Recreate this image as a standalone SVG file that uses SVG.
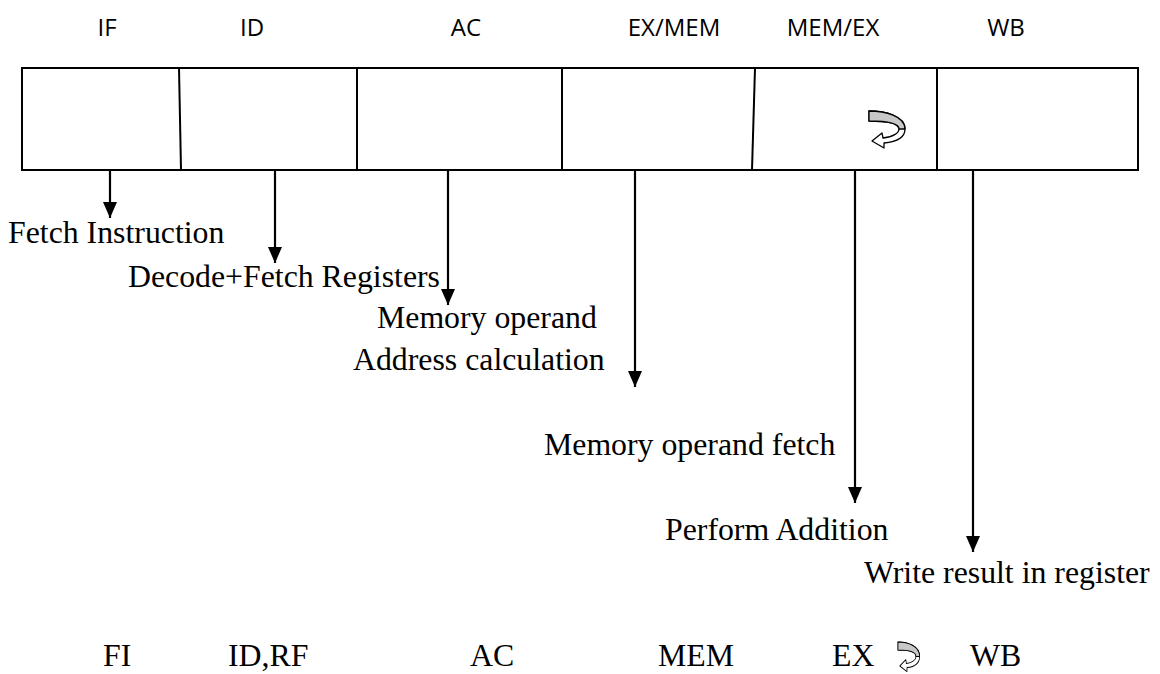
<svg xmlns="http://www.w3.org/2000/svg" width="1160" height="674" viewBox="0 0 1160 674">
<style>
.top{font-family:"Open Sans","Liberation Sans",sans-serif;font-size:24px;fill:#000;text-anchor:middle}
.lbl{font-family:"Liberation Serif","Times New Roman",serif;font-size:31.8px;fill:#000}
.box{fill:none;stroke:#000;stroke-width:2}
.conn{stroke:#000;stroke-width:2.2;fill:none}
</style>
<defs>
<marker id="ah" viewBox="0 0 16 14" refX="16" refY="7" markerWidth="16" markerHeight="14" markerUnits="userSpaceOnUse" orient="auto">
<path d="M0,0 L16,7 L0,14 Z" fill="#000"/>
</marker>
<g id="uturn">
<path d="M0,0 C16,0 36,5 36,18 C36,27 26,31 15,32 L15,37 L3,30 L13,22 L14,27 C24,26 30,22 30,18 C30,12 16,10 0,10 Z" fill="#fff" stroke="#000" stroke-width="1.3" stroke-linejoin="round"/>
<path d="M0,0 C16,0 36,5 36,18 L30,18 C30,12 16,10 0,10 Z" fill="#c8c8c8" stroke="#000" stroke-width="1.3" stroke-linejoin="round"/>
</g>
</defs>

<g id="stage-labels">
<text class="top" x="107" y="36">IF</text>
<text class="top" x="252" y="36">ID</text>
<text class="top" x="466" y="36">AC</text>
<text class="top" x="674" y="36">EX/MEM</text>
<text class="top" x="833" y="36">MEM/EX</text>
<text class="top" x="1006" y="36">WB</text>
</g>

<g id="pipeline">
<rect class="box" x="22" y="68" width="1116" height="102"/>
<line class="box" x1="179" y1="68" x2="181" y2="170"/>
<line class="box" x1="357" y1="68" x2="357" y2="170"/>
<line class="box" x1="562" y1="68" x2="562" y2="170"/>
<line class="box" x1="755" y1="68" x2="752" y2="170"/>
<line class="box" x1="937" y1="68" x2="937" y2="170"/>
<use href="#uturn" x="869" y="111"/>
</g>

<g id="connectors">
<line class="conn" x1="110" y1="170" x2="110" y2="218" marker-end="url(#ah)"/>
<line class="conn" x1="275" y1="170" x2="275" y2="263" marker-end="url(#ah)"/>
<line class="conn" x1="448" y1="170" x2="448" y2="305" marker-end="url(#ah)"/>
<line class="conn" x1="635" y1="170" x2="635" y2="387" marker-end="url(#ah)"/>
<line class="conn" x1="855" y1="170" x2="855" y2="503" marker-end="url(#ah)"/>
<line class="conn" x1="973" y1="170" x2="973" y2="552" marker-end="url(#ah)"/>
</g>

<g id="step-fetch"><text class="lbl" x="8" y="243">Fetch Instruction</text></g>
<g id="step-decode"><text class="lbl" x="128" y="287">Decode+Fetch Registers</text></g>
<g id="step-address"><text class="lbl" x="377" y="328">Memory operand</text><text class="lbl" x="353" y="370">Address calculation</text></g>
<g id="step-memfetch"><text class="lbl" x="544" y="455">Memory operand fetch</text></g>
<g id="step-add"><text class="lbl" x="665" y="540">Perform Addition</text></g>
<g id="step-write"><text class="lbl" x="864" y="583">Write result in register</text></g>

<g id="bottom-row">
<text class="lbl" x="103" y="666">FI</text>
<text class="lbl" x="228" y="666">ID,RF</text>
<text class="lbl" x="470" y="666">AC</text>
<text class="lbl" x="658" y="666">MEM</text>
<text class="lbl" x="832" y="666">EX</text>
<use href="#uturn" transform="translate(898,642) scale(0.6,0.8)"/>
<text class="lbl" x="970" y="666">WB</text>
</g>
</svg>
